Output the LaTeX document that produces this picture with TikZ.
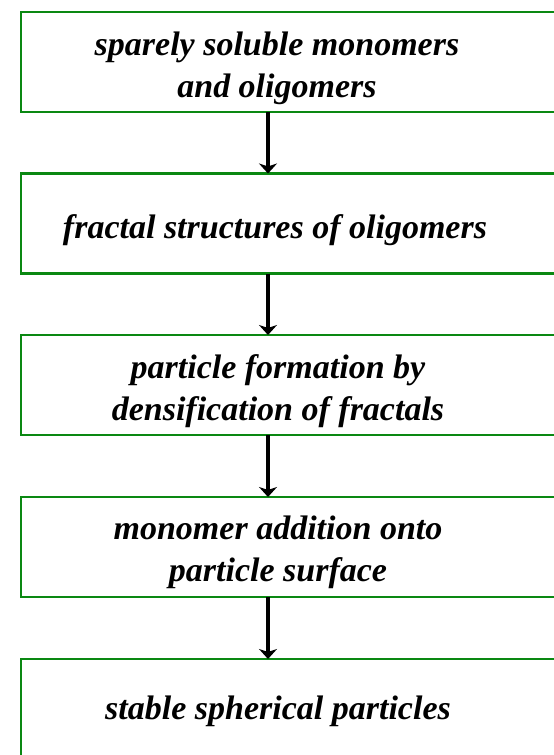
\documentclass[tikz,border=0pt]{standalone}
\usepackage{fontspec}
\setmainfont{Liberation Serif}
\usetikzlibrary{arrows.meta,calc}
\definecolor{boxgreen}{RGB}{10,136,18}
\begin{document}
\begin{tikzpicture}[x=1pt,y=-1pt,
  stepbox/.style={draw=boxgreen,line width=2.4pt,minimum width=560pt,minimum height=100pt,inner sep=0pt,outer sep=0pt},
  steptext/.style={align=center,font=\fontsize{34}{42}\selectfont\bfseries\itshape,inner sep=0pt},
  arr/.style={line width=3.2pt,-{Stealth[length=10pt,width=18pt,inset=3pt]}}]
\useasboundingbox (0,0) rectangle (554,755);
\clip (0,0) rectangle (554,755);
\fill[white] (0,0) rectangle (554,755);
\node[stepbox] (b1) at (301,62) {};
\node[stepbox] (b2) at (301,223.5) {};
\node[stepbox] (b3) at (301,385) {};
\node[stepbox] (b4) at (301,547) {};
\node[stepbox] (b5) at (301,709) {};
\node[steptext] (t1) at (277,68) {sparely soluble monomers\\and oligomers};
\node[steptext] (t2) at (275,230) {fractal structures of oligomers};
\node[steptext] (t3) at (278,391) {particle formation by\\densification of fractals};
\node[steptext] (t4) at (278,552) {monomer addition onto\\particle surface};
\node[steptext] (t5) at (278,711) {stable spherical particles};
\coordinate (ax) at (268,0);
\draw[arr] (b1.south -| ax) -- (b2.north -| ax);
\draw[arr] (b2.south -| ax) -- (b3.north -| ax);
\draw[arr] (b3.south -| ax) -- (b4.north -| ax);
\draw[arr] (b4.south -| ax) -- (b5.north -| ax);
\end{tikzpicture}
\end{document}
